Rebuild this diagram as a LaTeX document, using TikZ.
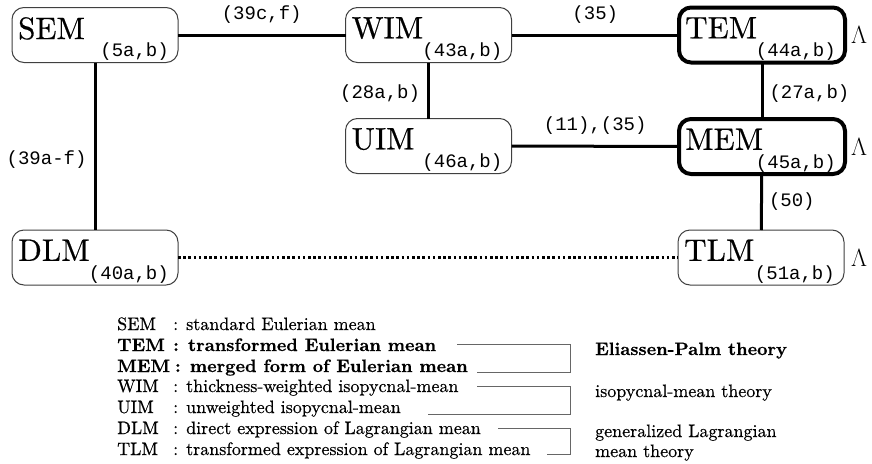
\documentclass[tikz,border=0pt]{standalone}
\usepackage{fontspec}
\setmonofont{Liberation Mono}
\newfontfamily\cent{lmroman10-regular.otf}[BoldFont=lmroman10-bold.otf, FakeBold=0.5]
\usetikzlibrary{calc}
\begin{document}
\begin{tikzpicture}[x=1pt,y=-1pt,
  box/.style={draw=black!75, line width=1pt, rounded corners=12pt, minimum width=166pt, minimum height=55pt, inner sep=0pt, outer sep=0pt},
  boldbox/.style={box, draw=black, line width=4pt},
  conn/.style={line width=3pt, draw=black},
  dotconn/.style={conn, dash pattern=on 2.6pt off 2.6pt},
  nm/.style={inner sep=0pt, anchor=north west, font=\fontsize{31}{31}\selectfont\cent},
  eqn/.style={inner sep=0pt, anchor=base east, font=\fontsize{19}{19}\selectfont\ttfamily},
  elab/.style={inner sep=0pt, font=\fontsize{19}{19}\selectfont\ttfamily},
  lam/.style={inner sep=0pt, anchor=west, font=\fontsize{24}{24}\selectfont},
  leg/.style={inner sep=0pt, anchor=base west, font=\fontsize{18}{20}\selectfont\cent},
  legb/.style={inner sep=0pt, anchor=base west, font=\fontsize{18}{20}\selectfont\cent\bfseries},
  brk/.style={line width=1pt, draw=black!60},
]
\path[use as bounding box, fill=white] (0,0) rectangle (872,463);

% boxes
\node[box]     (sem) at (95,35) {};
\node[box]     (wim) at (428.5,35) {};
\node[boldbox] (tem) at (762,35) {};
\node[box]     (uim) at (428.5,146) {};
\node[boldbox] (mem) at (762,146.5) {};
\node[box]     (dlm) at (95,257.5) {};
\node[box]     (tlm) at (761,257.5) {};

% names and equation numbers
\node[nm]  (semN) at ($(sem.north west)+(6,9.5)$) {SEM};
\node[eqn] (semE) at ($(sem.south east)+(-9,-6)$) {(5a,b)};
\node[nm]  (wimN) at ($(wim.north west)+(6,9.5)$) {WIM};
\node[eqn] (wimE) at ($(wim.south east)+(-9,-6)$) {(43a,b)};
\node[nm]  (temN) at ($(tem.north west)+(6,9.5)$) {TEM};
\node[eqn] (temE) at ($(tem.south east)+(-9,-6)$) {(44a,b)};
\node[nm]  (uimN) at ($(uim.north west)+(6,9.5)$) {UIM};
\node[eqn] (uimE) at ($(uim.south east)+(-9,-6)$) {(46a,b)};
\node[nm]  (memN) at ($(mem.north west)+(6,9.5)$) {MEM};
\node[eqn] (memE) at ($(mem.south east)+(-9,-6)$) {(45a,b)};
\node[nm]  (dlmN) at ($(dlm.north west)+(6,9.5)$) {DLM};
\node[eqn] (dlmE) at ($(dlm.south east)+(-9,-6)$) {(40a,b)};
\node[nm]  (tlmN) at ($(tlm.north west)+(6,9.5)$) {TLM};
\node[eqn] (tlmE) at ($(tlm.south east)+(-9,-6)$) {(51a,b)};

% Lambda marks
\node[lam] (lamT) at ($(tem.east)+(6,0)$) {$\Lambda$};
\node[lam] (lamM) at ($(mem.east)+(6,0)$) {$\Lambda$};
\node[lam] (lamL) at ($(tlm.east)+(7,0)$) {$\Lambda$};

% connectors
\draw[conn] (sem) -- node[elab, above=10pt] (c1) {(39c,f)} (wim);
\draw[conn] (wim) -- node[elab, above=10pt] (c2) {(35)} (tem);
\draw[conn] (wim) -- node[elab, left=7pt, pos=0.55] (c3) {(28a,b)} (uim);
\draw[conn] (uim) -- node[elab, above=10pt] (c4) {(11),(35)} (mem);
\draw[conn] (tem) -- node[elab, right=6pt, pos=0.55] (c5) {(27a,b)} (mem);
\draw[conn] (mem) -- node[elab, right=6pt] (c6) {(50)} (tlm);
\draw[conn] (sem) -- node[elab, left=7pt, pos=0.58] (c7) {(39a-f)} (dlm);
\draw[dotconn] (dlm) -- (tlm);

% legend
\node[leg]  (aSEM) at (117,330) {SEM};
\node[leg]  (dSEM) at (173,330) {: standard Eulerian mean};
\node[legb] (aTEM) at (117,351) {TEM};
\node[legb] (dTEM) at (173,351) {: transformed Eulerian mean};
\node[legb] (aMEM) at (117,372) {MEM};
\node[legb] (dMEM) at ($(aMEM.base east)+(4.5,0)$) {: merged form of Eulerian mean};
\node[leg]  (aWIM) at (117,392) {WIM};
\node[leg]  (dWIM) at (173,392) {: thickness-weighted isopycnal-mean};
\node[leg]  (aUIM) at (117,413) {UIM};
\node[leg]  (dUIM) at (173,413) {: unweighted isopycnal-mean};
\node[leg]  (aDLM) at (117,434) {DLM};
\node[leg]  (dDLM) at (173,434) {: direct expression of Lagrangian mean};
\node[leg]  (aTLM) at (117,455) {TLM};
\node[leg]  (dTLM) at (173,455) {: transformed expression of Lagrangian mean};

% brackets
\coordinate (ep1) at (457,344); \coordinate (ep2) at (570,344);
\coordinate (ep3) at (570,372); \coordinate (ep4) at (477,372);
\draw[brk] (ep1) -- (ep2) -- (ep3) -- (ep4);
\coordinate (ip1) at (477,386); \coordinate (ip2) at (570,386);
\coordinate (ip3) at (570,414); \coordinate (ip4) at (428,414);
\draw[brk] (ip1) -- (ip2) -- (ip3) -- (ip4);
\coordinate (lg1) at (498,428); \coordinate (lg2) at (570,428);
\coordinate (lg3) at (570,454); \coordinate (lg4) at (547,454);
\draw[brk] (lg1) -- (lg2) -- (lg3) -- (lg4);

\node[legb] (tEP)  at (595,355) {Eliassen-Palm theory};
\node[leg]  (tIso) at (595,397) {isopycnal-mean theory};
\node[leg]  (tGL1) at (595,437) {generalized Lagrangian};
\node[leg]  (tGL2) at (595,457) {mean theory};
\end{tikzpicture}
\end{document}
